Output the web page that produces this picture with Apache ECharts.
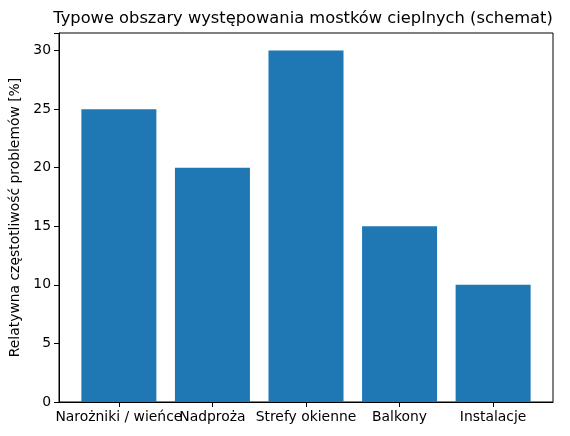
<!DOCTYPE html>
<html>
<head>
<meta charset="utf-8">
<script src="https://cdn.jsdelivr.net/npm/echarts@6/dist/echarts.min.js"></script>
<style>
html,body{margin:0;padding:0;background:#fff}
#chart{width:570px;height:436px}
</style>
</head>
<body>
<div id="chart"></div>
<script>
// dane
const categories = ['Narożniki / wieńce', 'Nadproża', 'Strefy okienne', 'Balkony', 'Instalacje']
const values = [25, 20, 30, 15, 10]
const yTicks = [0, 5, 10, 15, 20, 25, 30]

const font = 'DejaVu Sans'
const chart = echarts.init(document.getElementById('chart'), null, {renderer: 'canvas'})

const positions = categories.map((c, i) => i)
// etykiety nachodzą na siebie, więc parzyste i nieparzyste idą na dwie osie
const xAxisFor = (pos, showLine) => ({
    type: 'value',
    position: 'bottom',
    offset: 0,
    min: -0.64,
    max: 4.64,
    splitLine: {show: false},
    axisLine: {show: showLine, onZero: false, lineStyle: {color: '#000'}},
    axisTick: {show: showLine, length: 5, lineStyle: {color: '#000'}, customValues: positions},
    axisLabel: {
        customValues: pos,
        formatter: v => categories[Math.round(v)],
        hideOverlap: false,
        showMinLabel: true,
        showMaxLabel: true,
        margin: 8,
        color: '#000', fontFamily: font, fontSize: 13.9
    }
})

const option = {
    animation: false,
    title: {
        text: 'Typowe obszary występowania mostków cieplnych (schemat)',
        left: 298,
        top: 6,
        textAlign: 'center',
        textStyle: {fontFamily: font, fontSize: 16.3, fontWeight: 'normal', color: '#000'}
    },
    grid: {
        left: 59, right: 17, top: 33, bottom: 34,
        show: true, borderColor: '#000', borderWidth: 1
    },
    xAxis: [
        xAxisFor(positions.filter(i => i % 2 === 0), true),
        xAxisFor(positions.filter(i => i % 2 === 1), false)
    ],
    yAxis: {
        type: 'value',
        min: 0,
        max: 31.5,
        interval: 5,
        name: 'Relatywna częstotliwość problemów [%]',
        nameLocation: 'middle',
        nameRotate: 90,
        nameGap: 33,
        nameTextStyle: {fontFamily: font, fontSize: 13.9, color: '#000'},
        splitLine: {show: false},
        axisLine: {show: true, onZero: false, lineStyle: {color: '#000'}},
        axisTick: {show: true, length: 5, lineStyle: {color: '#000'}},
        axisLabel: {
            customValues: yTicks,
            showMinLabel: true,
            showMaxLabel: true,
            margin: 8,
            color: '#000', fontFamily: font, fontSize: 13.9
        }
    },
    series: [{
        type: 'bar',
        barWidth: 75,
        itemStyle: {color: '#1f77b4'},
        data: values.map((v, i) => [i, v])
    }]
}
chart.setOption(option)
</script>
</body>
</html>
